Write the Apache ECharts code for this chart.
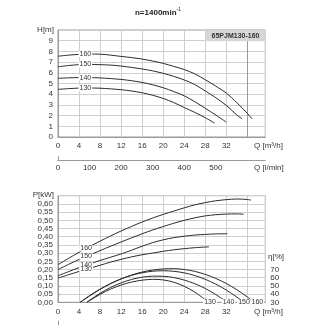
<!DOCTYPE html>
<html><head><meta charset="utf-8">
<script src="https://cdn.jsdelivr.net/npm/echarts@6/dist/echarts.min.js"></script>
<style>html,body{margin:0;padding:0;background:#fff}#c{width:325px;height:325px}</style>
</head><body><div id="c"></div>
<script>
// ---- Data ----
const sizes = ['160','150','140','130'];
// Head curves H [m] vs Q [m3/h]
const qH160 = [0,2,4,6,8,10,12,14,16,18,20,22,24,26,28,30,32,34,36,36.9];
const h160  = [7.55,7.65,7.72,7.75,7.74,7.65,7.53,7.42,7.28,7.1,6.88,6.6,6.3,5.9,5.35,4.75,4.1,3.2,2.2,1.69];
const qH150 = [0,2,4,6,8,10,12,14,16,18,20,22,24,26,28,30,32,34,35];
const h150  = [6.56,6.68,6.76,6.78,6.76,6.72,6.63,6.5,6.36,6.18,5.95,5.67,5.33,4.9,4.3,3.67,2.95,2.05,1.69];
const qH140 = [0,2,4,6,8,10,12,14,16,18,20,22,24,26,28,30,31.95];
const h140  = [5.48,5.53,5.55,5.55,5.52,5.46,5.38,5.26,5.1,4.88,4.6,4.25,3.85,3.3,2.68,2.05,1.4];
const qH130 = [0,2,4,6,8,10,12,14,16,18,20,22,24,26,28,29.8];
const h130  = [4.45,4.52,4.57,4.58,4.56,4.5,4.42,4.3,4.13,3.9,3.6,3.22,2.75,2.3,1.8,1.29];
// Power curves P [kW]
const qP160 = [0,2,4,6,8,10,12,14,16,18,20,22,24,26,28,30,32,34,36,36.7];
const p160  = [0.23,0.268,0.305,0.34,0.373,0.405,0.435,0.463,0.49,0.514,0.536,0.556,0.576,0.594,0.608,0.619,0.626,0.63,0.627,0.623];
const qP150 = [0,2,4,6,8,10,12,14,16,18,20,22,24,26,28,30,32,34,35.3];
const p150  = [0.2,0.231,0.261,0.288,0.315,0.342,0.368,0.393,0.418,0.441,0.462,0.482,0.5,0.515,0.527,0.534,0.538,0.539,0.537];
const qP140 = [0,2,4,6,8,10,12,14,16,18,20,22,24,26,28,30,32.2];
const p140  = [0.162,0.187,0.211,0.233,0.255,0.275,0.295,0.318,0.342,0.364,0.381,0.394,0.403,0.41,0.414,0.417,0.418];
const qP130 = [0,2,4,6,8,10,12,14,16,18,20,22,24,26,28.7];
const p130  = [0.148,0.168,0.188,0.207,0.226,0.245,0.262,0.277,0.29,0.3,0.311,0.32,0.327,0.333,0.338];
// Efficiency curves eta [%]
const qE160 = [4.2,6,8,10,12,14,16,18,20,22,24,26,28,30,32,34,36,36.8];
const e160  = [30,38.1,46,52.9,58.6,63.3,66.9,69.3,70.7,71,70,67.7,64,59.1,52.9,45.3,36.4,32.5];
const qE150 = [4.2,6,8,10,12,14,16,18,20,22,24,26,28,30,32,34,34.7];
const e150  = [30,37.7,45.9,52.8,58.5,62.9,66,67.9,68.5,67.8,65.9,62.6,58,52.1,44.9,36.4,33];
const qE140 = [5.5,6,8,10,12,14,16,18,20,22,24,26,28,30,31.4];
const e140  = [30,32.5,41,48.1,53.7,57.9,60.6,61.9,61.7,60.2,57.1,52.7,46.8,39.4,33.4];
const qE130 = [5.5,6,8,10,12,14,16,18,20,22,24,26,27.9];
const e130  = [30,32,39.7,46.1,51.1,54.7,57,58,57.3,54.5,49.5,42.4,33.6];
const etaLabelQ = [37.9,35.35,32.4,28.9];
// Axis ticks
const qMax = 39.4, qStep = 4, qLabelMax = 32;
const hMax = 10, hStep = 1;
const pMax = 0.65, pStep = 0.05;
const etaMin = 30, etaMax = 160, etaStep = 10, etaLabelMax = 70;
const lminStep = 100, lminLabelMax = 500;
const curveLabelQ = 5.2, powerLabelQ = 5.35;

// ---- Chart ----
const font = 'Liberation Sans, Arial, sans-serif';
const txt = '#333', gridC = '#cfcfcf', frameC = '#9a9a9a', lineC = '#2b2b2b';
function interp(qs, vs, q){for(let i=1;i<qs.length;i++){if(q<=qs[i]){const t=(q-qs[i-1])/(qs[i]-qs[i-1]);return vs[i-1]+t*(vs[i]-vs[i-1]);}}return vs[vs.length-1];}
const zip=(a,b)=>a.map((v,i)=>[v,b[i]]);
const L=58, W=207.3;
const labelStyle={show:true,fontSize:7,fontFamily:font,color:txt,backgroundColor:'#fff',padding:[0,1],lineHeight:6,position:'inside'};
function curve(q,v,xi,yi,lbl,lq){
  const s={type:'line',xAxisIndex:xi,yAxisIndex:yi,data:zip(q,v),showSymbol:false,smooth:0.3,
    lineStyle:{color:lineC,width:1},silent:true,animation:false};
  if(lbl){s.markPoint={symbol:'circle',symbolSize:0,silent:true,label:labelStyle,
    data:[{coord:[lq,interp(q,v,lq)],value:lbl,label:Object.assign({},labelStyle,{formatter:lbl})}]};}
  return s;
}
const Hs=[[qH160,h160],[qH150,h150],[qH140,h140],[qH130,h130]];
const Ps=[[qP160,p160],[qP150,p150],[qP140,p140],[qP130,p130]];
const Es=[[qE160,e160],[qE150,e150],[qE140,e140],[qE130,e130]];
const series=[];
Hs.forEach((d,i)=>series.push(curve(d[0],d[1],0,0,sizes[i],curveLabelQ)));
series[0].markLine={silent:true,symbol:'none',z:1,label:{show:false},lineStyle:{color:'#9a9a9a',width:1,type:'solid'},data:[{xAxis:36}]};
Ps.forEach((d,i)=>series.push(curve(d[0],d[1],1,1,sizes[i],powerLabelQ)));
Es.forEach((d,i)=>{const s=curve(d[0],d[1],1,2,null);
  s.markPoint={symbol:'circle',symbolSize:0,silent:true,
    data:[{coord:[etaLabelQ[i],etaMin],label:Object.assign({},labelStyle,{formatter:sizes[i],padding:[0,1]})}]};
  series.push(s);});

const qFmt=v=>(Math.abs(v%qStep)<1e-6&&v<=qLabelMax)?String(v):'';
const xBase={type:'value',min:0,max:qMax,interval:qStep,
  axisLine:{show:true,lineStyle:{color:frameC}},axisTick:{show:false},
  splitLine:{show:true,lineStyle:{color:gridC,width:1}},
  axisLabel:{fontSize:8,fontFamily:font,color:txt,margin:5,formatter:qFmt,showMaxLabel:true}};
const option={
  animation:false,
  grid:[
    {left:L,top:30,width:W,height:107,show:true,borderColor:frameC,borderWidth:1},
    {left:L,top:195.7,width:W,height:106.6,show:true,borderColor:frameC,borderWidth:1},
    {left:L,top:269.3,width:W,height:33},
    {left:L,top:156.7,width:W,height:4},
    {left:L,top:321,width:W,height:10}
  ],
  xAxis:[
    Object.assign({gridIndex:0},xBase),
    Object.assign({gridIndex:1},xBase),
    {gridIndex:2,type:'value',min:0,max:qMax,show:false},
    {gridIndex:3,type:'value',min:0,max:qMax*1000/60,interval:lminStep,
      axisLine:{show:true,lineStyle:{color:frameC}},axisTick:{show:false},splitLine:{show:false},
      axisLabel:{fontSize:8,fontFamily:font,color:txt,margin:3,
        formatter:v=>(Math.abs(v%lminStep)<1e-6&&v<=lminLabelMax)?String(v):''}},
    {gridIndex:4,type:'value',min:0,max:1,show:false}
  ],
  yAxis:[
    {gridIndex:0,type:'value',min:0,max:hMax,interval:hStep,
      axisLine:{show:true,lineStyle:{color:frameC}},axisTick:{show:false},
      splitLine:{show:true,lineStyle:{color:gridC}},
      axisLabel:{fontSize:8,fontFamily:font,color:txt,margin:5,formatter:v=>v<hMax?String(v):''}},
    {gridIndex:1,type:'value',min:0,max:pMax,interval:pStep,
      axisLine:{show:true,lineStyle:{color:frameC}},axisTick:{show:false},
      splitLine:{show:true,lineStyle:{color:gridC}},
      axisLabel:{fontSize:8,fontFamily:font,color:txt,margin:5,
        formatter:v=>v<pMax-1e-6?v.toFixed(2).replace('.',','):''}},
    {gridIndex:1,type:'value',position:'right',min:etaMin,max:etaMax,interval:etaStep,show:false},
    {gridIndex:2,type:'value',position:'right',min:etaMin,max:etaLabelMax,interval:etaStep,offset:2,
      axisLine:{show:true,lineStyle:{color:frameC}},
      axisTick:{show:true,length:2,lineStyle:{color:frameC}},splitLine:{show:false},
      axisLabel:{fontSize:8,fontFamily:font,color:txt,margin:3}},
    {gridIndex:3,type:'value',min:0,max:1,axisLine:{show:true,lineStyle:{color:frameC}},
      axisTick:{show:false},axisLabel:{show:false},splitLine:{show:false}},
    {gridIndex:4,type:'value',min:0,max:1,axisLine:{show:true,lineStyle:{color:frameC}},
      axisTick:{show:false},axisLabel:{show:false},splitLine:{show:false}}
  ],
  graphic:[
    {type:'text',x:158,y:12.5,style:{text:'{a|n=1400min}{b|-1}',align:'center',verticalAlign:'middle',rich:{
      a:{fontSize:8,fontFamily:font,fill:'#222',fontWeight:'bold'},
      b:{fontSize:5,fontFamily:font,fill:'#222',verticalAlign:'top',padding:[0,0,5,0]}}}},
    {type:'text',x:54,y:30,style:{text:'H[m]',fontSize:8,fontFamily:font,fill:txt,align:'right',verticalAlign:'middle'}},
    {type:'text',x:54,y:195,style:{text:'P[kW]',fontSize:8,fontFamily:font,fill:txt,align:'right',verticalAlign:'middle'}},
    {type:'text',x:254,y:146,style:{text:'Q [m³/h]',fontSize:8,fontFamily:font,fill:txt,verticalAlign:'middle'}},
    {type:'text',x:254,y:167.7,style:{text:'Q [l/min]',fontSize:8,fontFamily:font,fill:txt,verticalAlign:'middle'}},
    {type:'text',x:254,y:311.3,style:{text:'Q [m³/h]',fontSize:8,fontFamily:font,fill:txt,verticalAlign:'middle'}},
    {type:'text',x:268,y:257,style:{text:'η[%]',fontSize:8,fontFamily:font,fill:txt,verticalAlign:'middle'}},
    {type:'rect',shape:{x:205.7,y:30,width:59.6,height:11.3},style:{fill:'#d6d6d6'},z:100},
    {type:'text',x:235.5,y:35.8,z:101,style:{text:'65PJM130-160',fontSize:7,fontWeight:'bold',fontFamily:font,fill:'#333',align:'center',verticalAlign:'middle'}}
  ],
  series:series
};
const chart=echarts.init(document.getElementById('c'),null,{renderer:'canvas'});
chart.setOption(option);
</script></body></html>
